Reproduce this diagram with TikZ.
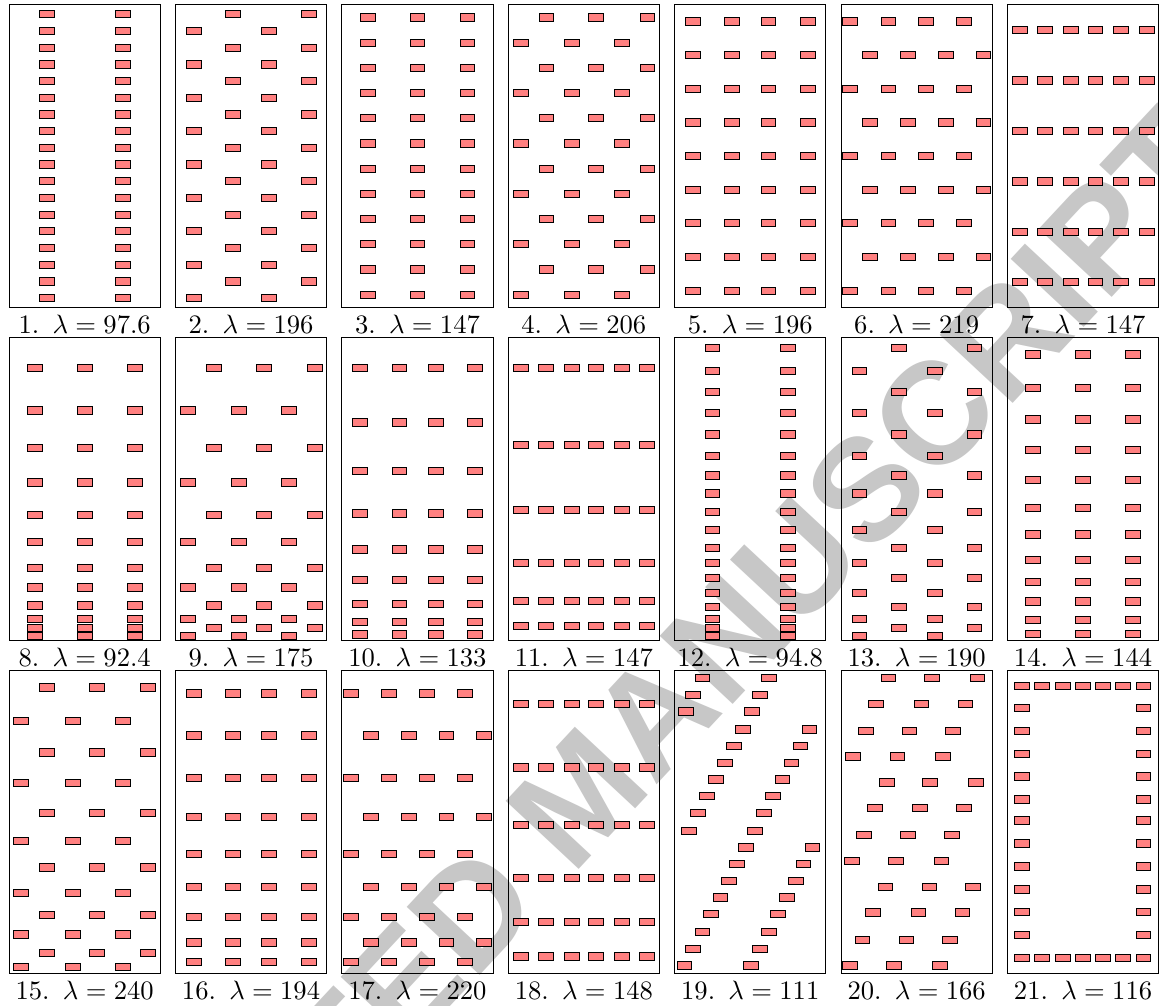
\documentclass[tikz,border=0pt]{standalone}
\usepackage{graphicx}
\usepackage{fontspec}
\newfontfamily\wmfont{Liberation Sans}
\tikzset{
  rk/.style={draw=black, fill=red!50, line width=0.75pt},
  pframe/.style={draw=black, line width=0.9pt, minimum width=151.3pt, minimum height=302.6pt, inner sep=0pt, outer sep=0pt, anchor=north west},
  lab/.style={anchor=base, inner sep=0pt},
  wm/.style={text=black!22, rotate=47, inner sep=0pt, font=\wmfont\bfseries\fontsize{145}{145}\selectfont},
  inp/.style={shift={(f#1.north west)}, x=151.3pt, y=-151.3pt}
}
\newcommand\rr[2]{\draw[rk] ({#1-0.049},{#2-0.024}) rectangle ++(0.098,0.048);}
\newcommand\gridrows[2]{\foreach \yy in #1 {\foreach \xx in #2 {\rr{\xx}{\yy}}}}
\newcommand\altrows[3]{\foreach \yy [count=\kk] in #1 {\ifodd\kk\relax\let\xs=#2\else\let\xs=#3\fi \foreach \xx in \xs {\rr{\xx}{\yy}}}}
\newcommand\panel[4]{\node[pframe] (f#1) at (#2,#3) {};
  \node[lab] (l#1) at ([yshift=-25.7pt]f#1.south) {\scalebox{2.66}{#1.\hspace{5pt}$\lambda = #4$}};}
% lists
\def\yP{0.063,0.173,0.284,0.394,0.504,0.615,0.725,0.835,0.945,1.056,1.166,1.276,1.387,1.497,1.607,1.718,1.828,1.938}
\def\xOne{0.25,0.75}
\def\xTwoA{0.381,0.881}
\def\xTwoB{0.121,0.619}
\def\yThree{0.083,0.25,0.417,0.583,0.75,0.917,1.083,1.25,1.417,1.583,1.75,1.917}
\def\xThree{0.17,0.5,0.83}
\def\xFourA{0.252,0.582,0.92}
\def\xFourB{0.081,0.42,0.75}
\def\yFive{0.111,0.333,0.556,0.778,1,1.222,1.444,1.667,1.889}
\def\xFive{0.121,0.381,0.62,0.881}
\def\xSixA{0.061,0.313,0.563,0.813}
\def\xSixB{0.192,0.442,0.691,0.941}
\def\ySeven{0.167,0.5,0.833,1.167,1.5,1.831}
\def\xSeven{0.081,0.25,0.419,0.581,0.75,0.919}
\def\yEight{0.198,0.480,0.729,0.956,1.170,1.348,1.520,1.650,1.769,1.859,1.919,1.971}
\def\yTen{0.198,0.559,0.879,1.161,1.399,1.599,1.760,1.879,1.960}
\def\yEleven{0.198,0.707,1.139,1.489,1.738,1.907}
\def\yTwelve{0.068,0.218,0.359,0.498,0.639,0.780,0.910,1.029,1.150,1.269,1.388,1.487,1.588,1.685,1.780,1.859,1.919,1.969}
\def\yFourteen{0.110,0.330,0.540,0.742,0.938,1.126,1.300,1.467,1.615,1.742,1.864,1.958}
\def\ySixteen{0.150,0.427,0.707,0.967,1.209,1.427,1.626,1.795,1.923}
\def\yEighteen{0.218,0.639,1.018,1.368,1.659,1.888}
\def\xTw{0.098,0.230,0.365,0.497,0.632,0.765,0.899}
\begin{document}
\begin{tikzpicture}[x=1pt,y=-1pt]
\useasboundingbox (0,0) rectangle (1159,1006);
\fill[white] (0,0) rectangle (1159,1006);
\begin{scope}
\clip (0,0) rectangle (1159,1006);
\node[wm] (wmark) at (580,795) {ACCEPTED MANUSCRIPT};
\end{scope}
% frames and labels
\panel{1}{9}{4.7}{97.6}
\panel{2}{175.4}{4.7}{196}
\panel{3}{341.8}{4.7}{147}
\panel{4}{508.2}{4.7}{206}
\panel{5}{674.6}{4.7}{196}
\panel{6}{841.0}{4.7}{219}
\panel{7}{1007.4}{4.7}{147}
\panel{8}{9}{337.7}{92.4}
\panel{9}{175.4}{337.7}{175}
\panel{10}{341.8}{337.7}{133}
\panel{11}{508.2}{337.7}{147}
\panel{12}{674.6}{337.7}{94.8}
\panel{13}{841.0}{337.7}{190}
\panel{14}{1007.4}{337.7}{144}
\panel{15}{9}{670.7}{240}
\panel{16}{175.4}{670.7}{194}
\panel{17}{341.8}{670.7}{220}
\panel{18}{508.2}{670.7}{148}
\panel{19}{674.6}{670.7}{111}
\panel{20}{841.0}{670.7}{166}
\panel{21}{1007.4}{670.7}{116}
% contents
\begin{scope}[inp=1]\gridrows{\yP}{\xOne}\end{scope}
\begin{scope}[inp=2]\altrows{\yP}{\xTwoA}{\xTwoB}\end{scope}
\begin{scope}[inp=3]\gridrows{\yThree}{\xThree}\end{scope}
\begin{scope}[inp=4]\altrows{\yThree}{\xFourA}{\xFourB}\end{scope}
\begin{scope}[inp=5]\gridrows{\yFive}{\xFive}\end{scope}
\begin{scope}[inp=6]\altrows{\yFive}{\xSixA}{\xSixB}\end{scope}
\begin{scope}[inp=7]\gridrows{\ySeven}{\xSeven}\end{scope}
\begin{scope}[inp=8]\gridrows{\yEight}{\xThree}\end{scope}
\begin{scope}[inp=9]\altrows{\yEight}{\xFourA}{\xFourB}\end{scope}
\begin{scope}[inp=10]\gridrows{\yTen}{\xFive}\end{scope}
\begin{scope}[inp=11]\gridrows{\yEleven}{\xSeven}\end{scope}
\begin{scope}[inp=12]\gridrows{\yTwelve}{\xOne}\end{scope}
\begin{scope}[inp=13]\altrows{\yTwelve}{\xTwoA}{\xTwoB}\end{scope}
\begin{scope}[inp=14]\gridrows{\yFourteen}{\xThree}\end{scope}
\begin{scope}[inp=15]\altrows{\yFourteen}{\xFourA}{\xFourB}\end{scope}
\begin{scope}[inp=16]\gridrows{\ySixteen}{\xFive}\end{scope}
\begin{scope}[inp=17]\altrows{\ySixteen}{\xSixA}{\xSixB}\end{scope}
\begin{scope}[inp=18]\gridrows{\yEighteen}{\xSeven}\end{scope}
\begin{scope}[inp=19]
\foreach \xx/\yy in {0.183/0.048,0.123/0.159,0.073/0.269,0.452/0.388,0.392/0.498,0.333/0.608,0.273/0.718,0.211/0.828,0.152/0.938,0.092/1.057,0.471/1.167,0.412/1.278,0.361/1.388,0.302/1.498,0.242/1.608,0.183/1.727,0.123/1.837,0.064/1.947}
  {\rr{\xx}{\yy}\rr{\xx+0.439}{\yy}}
\end{scope}
\begin{scope}[inp=20]
\foreach \yy/\xa/\xb/\xc in {0.048/0.313/0.601/0.901,0.218/0.231/0.531/0.822,0.396/0.163/0.452/0.742,0.566/0.081/0.372/0.672,0.738/0.302/0.590/0.892,0.907/0.222/0.522/0.811,1.086/0.152/0.443/0.731,1.258/0.073/0.363/0.663,1.427/0.293/0.584/0.872,1.597/0.211/0.511/0.802,1.777/0.141/0.432/0.722,1.947/0.061/0.352/0.652}
  {\rr{\xa}{\yy}\rr{\xb}{\yy}\rr{\xc}{\yy}}
\end{scope}
\begin{scope}[inp=21]
\foreach \xx in \xTw {\rr{\xx}{0.101}\rr{\xx}{1.896}}
\foreach \yy in {0.247,0.396,0.548,0.698,0.850,0.989,1.141,1.293,1.445,1.595,1.744} {\rr{0.098}{\yy}\rr{0.899}{\yy}}
\end{scope}
\end{tikzpicture}
\end{document}
